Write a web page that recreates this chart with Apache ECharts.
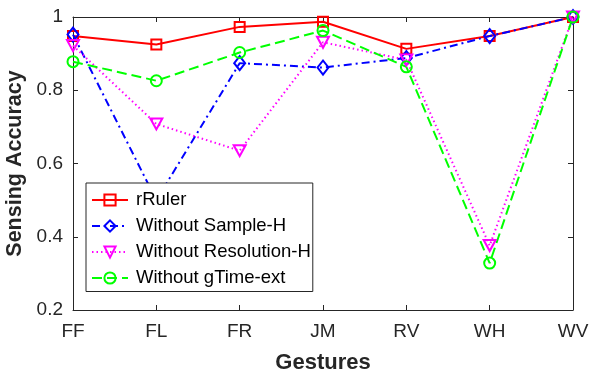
<!DOCTYPE html>
<html><head><meta charset="utf-8">
<script src="https://cdn.jsdelivr.net/npm/echarts@6/dist/echarts.min.js"></script>
<style>html,body{margin:0;padding:0;background:#fff}#c{width:589px;height:375px}</style>
</head><body><div id="c"></div>
<script>
const categories = ['FF','FL','FR','JM','RV','WH','WV'];
const rRuler = [0.948, 0.925, 0.973, 0.987, 0.913, 0.948, 1.0];
const withoutSampleH = [0.952, 0.50, 0.874, 0.862, 0.888, 0.948, 1.0];
const withoutResolutionH = [0.922, 0.708, 0.635, 0.931, 0.883, 0.376, 1.0];
const withoutGTimeExt = [0.878, 0.826, 0.903, 0.963, 0.864, 0.328, 1.0];
const yTicks = [0.2, 0.4, 0.6, 0.8, 1];

const font = 'Liberation Sans, Arial, sans-serif';
const axisColor = '#262626';
function mk(name, data, color, symbol, size, dash, rotate) {
  return {
    name, type: 'line', data, symbol, symbolSize: size, symbolRotate: rotate || 0,
    showAllSymbol: true,
    lineStyle: { color, width: 2, type: dash },
    itemStyle: { color: 'rgba(255,255,255,0)', borderColor: color, borderWidth: 2 },
    emphasis: { disabled: true }, animation: false
  };
}
const chart = echarts.init(document.getElementById('c'));
chart.setOption({
  animation: false,
  grid: { left: 73, right: 16, top: 17, bottom: 65, containLabel: false, outerBoundsMode: 'none' },
  legend: {
    orient: 'vertical', left: 86, top: 183,
    backgroundColor: '#fff', borderColor: axisColor, borderWidth: 1,
    padding: [7.5, 2, 4, 5], itemGap: 7, itemWidth: 36, itemHeight: 14,
    textStyle: { fontFamily: font, fontSize: 18.5, color: '#000', padding: [0,0,0,3] },
    data: ['rRuler','Without Sample-H','Without Resolution-H','Without gTime-ext']
  },
  xAxis: [{
    type: 'category', data: categories, boundaryGap: false,
    name: 'Gestures', nameLocation: 'middle', nameGap: 42,
    nameTextStyle: { fontFamily: font, fontSize: 22, fontWeight: 'bold', color: axisColor },
    axisLine: { lineStyle: { color: axisColor, width: 1 } },
    axisTick: { inside: true, length: 5, alignWithLabel: true, lineStyle: { color: axisColor } },
    axisLabel: { fontFamily: font, fontSize: 19, color: axisColor, margin: 12 },
    splitLine: { show: false }
  }, {
    type: 'category', data: categories, boundaryGap: false, position: 'top',
    axisLine: { lineStyle: { color: axisColor, width: 1 } },
    axisTick: { inside: true, length: 5, lineStyle: { color: axisColor } },
    axisLabel: { show: false }
  }],
  yAxis: [{
    type: 'value', min: 0.2, max: 1, interval: 0.2,
    name: 'Sensing Accuracy', nameLocation: 'middle', nameGap: 39,
    nameTextStyle: { fontFamily: font, fontSize: 21.5, fontWeight: 'bold', color: axisColor },
    axisLine: { show: true, lineStyle: { color: axisColor, width: 1 } },
    axisTick: { show: true, inside: true, length: 5, lineStyle: { color: axisColor } },
    axisLabel: { fontFamily: font, fontSize: 19, color: axisColor, margin: 10,
      formatter: v => { const t = yTicks.find(x => Math.abs(x - v) < 1e-6); return t === undefined ? '' : String(t); } },
    splitLine: { show: false }
  }, {
    type: 'value', min: 0.2, max: 1, interval: 0.2, position: 'right',
    axisLine: { show: true, lineStyle: { color: axisColor, width: 1 } },
    axisTick: { show: true, inside: true, length: 5, lineStyle: { color: axisColor } },
    axisLabel: { show: false }, splitLine: { show: false }
  }],
  series: [
    mk('rRuler', rRuler, '#ff0000', 'rect', 10, 'solid'),
    mk('Without Sample-H', withoutSampleH, '#0000ff', 'diamond', [11, 14], [8, 4, 2, 4]),
    mk('Without Resolution-H', withoutResolutionH, '#ff00ff', 'triangle', [12, 11], [1.5, 3], 180),
    mk('Without gTime-ext', withoutGTimeExt, '#00ff00', 'circle', 11, [10, 5])
  ]
});
</script></body></html>
